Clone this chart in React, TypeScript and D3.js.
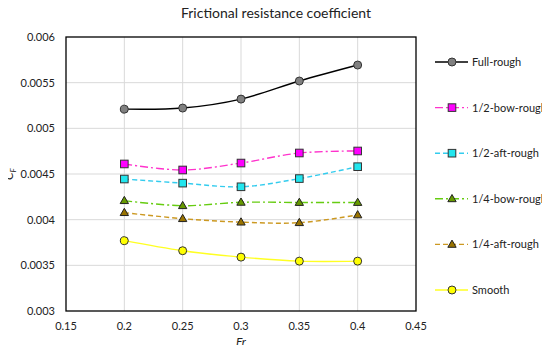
import React, { useRef, useEffect } from "react";
import * as d3 from "d3";

// Froude numbers where the CFD runs were done
const froude = [0.2, 0.25, 0.3, 0.35, 0.4];

const fullRough = [0.00521, 0.005222, 0.00532, 0.005518, 0.005693];
const halfBowRough = [0.00461, 0.004544, 0.00462, 0.00473, 0.004752];
const halfAftRough = [0.004445, 0.0044, 0.00436, 0.00445, 0.00458];
const quarterBowRough = [0.004208, 0.004153, 0.00419, 0.004188, 0.004188];
const quarterAftRough = [0.004077, 0.004011, 0.003973, 0.003967, 0.004052];
const smooth = [0.00377, 0.00366, 0.00359, 0.003546, 0.003546];

const xTicks = [0.15, 0.2, 0.25, 0.3, 0.35, 0.4, 0.45];
const yTicks = [0.003, 0.0035, 0.004, 0.0045, 0.005, 0.0055, 0.006];

const seriesNames = [
  "Full-rough",
  "1/2-bow-rough",
  "1/2-aft-rough",
  "1/4-bow-rough",
  "1/4-aft-rough",
  "Smooth",
];

const series = [
  { name: seriesNames[0], values: fullRough, line: "#000000", fill: "#808080", dash: null, marker: "circle" },
  { name: seriesNames[1], values: halfBowRough, line: "#ff33cc", fill: "#ff00ff", dash: "8,3,2,3", marker: "square" },
  { name: seriesNames[2], values: halfAftRough, line: "#33ccee", fill: "#22e6ee", dash: "5,3", marker: "square" },
  { name: seriesNames[3], values: quarterBowRough, line: "#66cc11", fill: "#669900", dash: "8,3,2,3", marker: "triangle" },
  { name: seriesNames[4], values: quarterAftRough, line: "#cc9922", fill: "#997300", dash: "5,3", marker: "triangle" },
  { name: seriesNames[5], values: smooth, line: "#ffff22", fill: "#ffff00", dash: null, marker: "circle" },
];

const FONT = "Lato, 'Liberation Sans', sans-serif";

const App = () => {
  const svgRef = useRef(null);
  const width = 550;
  const height = 353;

  useEffect(() => {
    const svg = d3.select(svgRef.current);
    svg.selectAll("*").remove();

    const left = 66, right = 416, top = 37, bottom = 311;
    const x = d3.scaleLinear().domain([0.15, 0.45]).range([left, right]);
    const y = d3.scaleLinear().domain([0.003, 0.006]).range([bottom, top]);

    svg.append("rect").attr("width", width).attr("height", height).attr("fill", "#fff");

    // gridlines
    svg.append("g")
      .selectAll("line")
      .data(xTicks.slice(1, -1))
      .enter()
      .append("line")
      .attr("x1", (d) => x(d)).attr("x2", (d) => x(d))
      .attr("y1", top).attr("y2", bottom)
      .attr("stroke", "#d9d9d9").attr("stroke-width", 1);
    svg.append("g")
      .selectAll("line")
      .data(yTicks.slice(1, -1))
      .enter()
      .append("line")
      .attr("x1", left).attr("x2", right)
      .attr("y1", (d) => y(d)).attr("y2", (d) => y(d))
      .attr("stroke", "#d9d9d9").attr("stroke-width", 1);

    // plot frame
    svg.append("rect")
      .attr("x", left).attr("y", top)
      .attr("width", right - left).attr("height", bottom - top)
      .attr("fill", "none").attr("stroke", "#000").attr("stroke-width", 1.3);

    // tick labels
    svg.append("g")
      .selectAll("text")
      .data(xTicks)
      .enter()
      .append("text")
      .attr("x", (d) => x(d)).attr("y", bottom + 19)
      .attr("text-anchor", "middle")
      .attr("font-family", FONT).attr("font-size", 11).attr("fill", "#222")
      .text((d) => d3.format("")(d));
    svg.append("g")
      .selectAll("text")
      .data(yTicks)
      .enter()
      .append("text")
      .attr("x", left - 11).attr("y", (d) => y(d) + 4)
      .attr("text-anchor", "end")
      .attr("font-family", FONT).attr("font-size", 11).attr("fill", "#222")
      .text((d) => d3.format("")(+d.toFixed(4)));

    // title and axis labels
    svg.append("text")
      .attr("x", 276).attr("y", 18)
      .attr("text-anchor", "middle")
      .attr("font-family", FONT).attr("font-size", 14).attr("fill", "#222")
      .text("Frictional resistance coefficient");
    svg.append("text")
      .attr("x", x(0.3)).attr("y", 346)
      .attr("text-anchor", "middle")
      .attr("font-family", FONT).attr("font-size", 12).attr("font-style", "italic").attr("fill", "#222")
      .text("Fr");
    const yl = svg.append("text")
      .attr("transform", `translate(13, ${(top + bottom) / 2}) rotate(-90)`)
      .attr("text-anchor", "middle")
      .attr("font-family", FONT).attr("font-size", 12).attr("font-style", "italic").attr("fill", "#222");
    yl.append("tspan").text("C");
    yl.append("tspan").attr("font-size", 8).attr("dy", 3).text("F");

    const drawMarker = (g, s, cx, cy) => {
      if (s.marker === "circle") {
        g.append("circle").attr("cx", cx).attr("cy", cy).attr("r", 4)
          .attr("fill", s.fill).attr("stroke", "#333").attr("stroke-width", 1);
      } else if (s.marker === "square") {
        g.append("rect").attr("x", cx - 3.8).attr("y", cy - 3.8).attr("width", 7.6).attr("height", 7.6)
          .attr("fill", s.fill).attr("stroke", "#333").attr("stroke-width", 1);
      } else {
        const tri = d3.symbol().type(d3.symbolTriangle).size(30);
        g.append("path").attr("d", tri).attr("transform", `translate(${cx},${cy + 0.5})`)
          .attr("fill", s.fill).attr("stroke", "#222").attr("stroke-width", 1);
      }
    };

    const line = d3.line()
      .x((d, i) => x(froude[i]))
      .y((d) => y(d))
      .curve(d3.curveCatmullRom.alpha(0.5));

    series.forEach((s) => {
      const g = svg.append("g");
      g.append("path")
        .attr("d", line(s.values))
        .attr("fill", "none")
        .attr("stroke", s.line)
        .attr("stroke-width", 1.4)
        .attr("stroke-dasharray", s.dash);
      s.values.forEach((v, i) => drawMarker(g, s, x(froude[i]), y(v)));
    });

    // legend
    const legY = d3.scalePoint().domain(seriesNames).range([62, 290]);
    series.forEach((s) => {
      const g = svg.append("g");
      const ly = legY(s.name);
      g.append("line")
        .attr("x1", 435).attr("x2", 468).attr("y1", ly).attr("y2", ly)
        .attr("stroke", s.line).attr("stroke-width", 1.4)
        .attr("stroke-dasharray", s.dash);
      drawMarker(g, s, 452, ly);
      g.append("text")
        .attr("x", 472).attr("y", ly + 4)
        .attr("font-family", FONT).attr("font-size", 11).attr("fill", "#222")
        .text(s.name);
    });
  }, []);

  return (
    <div style={{ margin: -8 }}>
      <svg ref={svgRef} width={width} height={height} style={{ display: "block" }}></svg>
    </div>
  );
};

export default App;
